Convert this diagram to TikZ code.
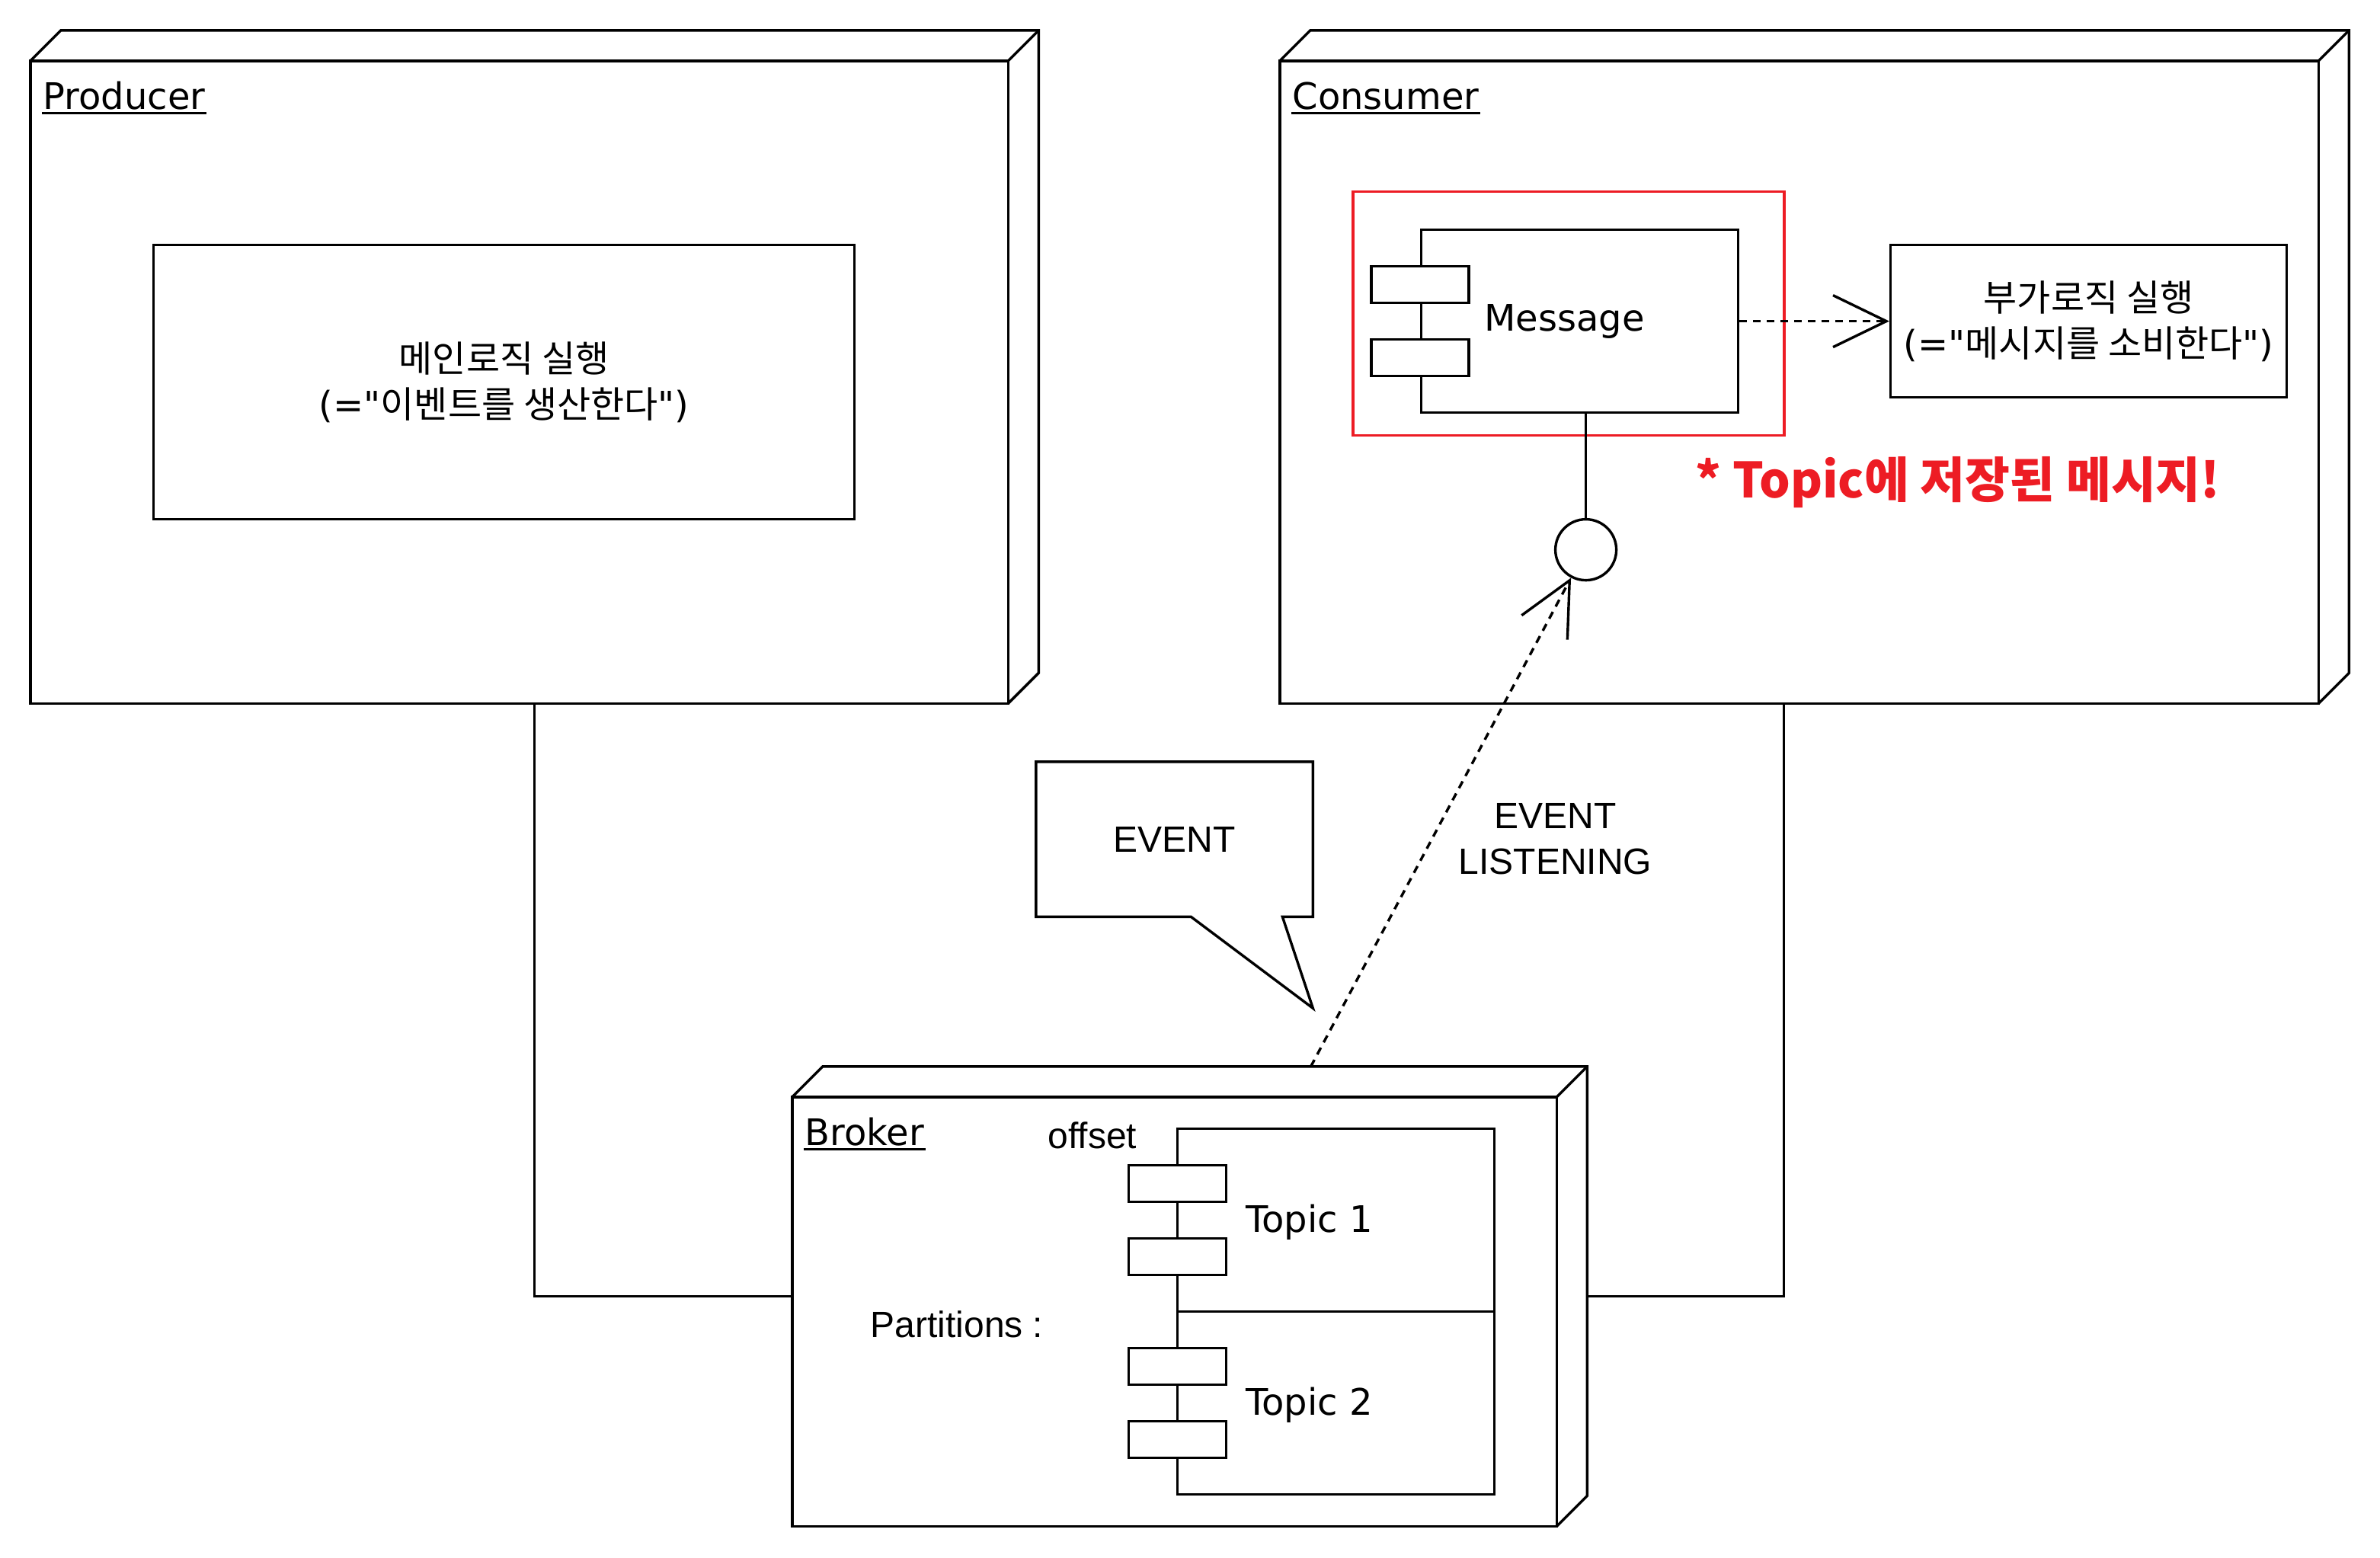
\documentclass[tikz,border=0pt]{standalone}
\usepackage{fontspec}
\setmainfont{DejaVu Sans}
\newfontfamily\dvfont{DejaVu Sans}
\newfontfamily\arialfont{Liberation Sans}
\newfontfamily\krfont{Noto Sans CJK KR}
\usetikzlibrary{arrows.meta}
\definecolor{alertred}{HTML}{ED1C24}

\tikzset{
  deploy/.style={rectangle, inner sep=0pt},
  box/.style={draw, inner sep=0pt},
  port/.style={box, fill=white, minimum width=64pt, minimum height=24pt},
  kr/.style={font=\fontsize{24}{30}\krfont},
  ar/.style={font=\fontsize{24}{30}\arialfont},
  depline/.style={dash pattern=on 5pt off 4pt},
  openarrow/.style={-{Straight Barb[length=35pt,width=34pt]}}
}

\begin{document}
\begin{tikzpicture}[x=1pt, y=-1pt, line width=1.7pt,
  every node/.style={font=\fontsize{24}{30}\selectfont, inner sep=0pt}]

\useasboundingbox (0,0) rectangle (1562,1022);

\node[deploy, minimum width=660pt, minimum height=440pt] (prod) at (350.8,240.8) {};
\node[deploy, minimum width=700pt, minimum height=440pt] (cons) at (1190.8,240.8) {};
\node[deploy, minimum width=520pt, minimum height=300pt] (brk) at (780.8,850.8) {};

\foreach \n in {prod,cons,brk} {
  \draw (\n.south west) rectangle ([shift={(-20,20)}]\n.north east);
  \draw ([shift={(0,20)}]\n.north west) -- ([shift={(20,0)}]\n.north west) -- (\n.north east)
    -- ([shift={(0,-20)}]\n.south east) -- ([shift={(-20,0)}]\n.south east);
  \draw ([shift={(-20,20)}]\n.north east) -- (\n.north east);
}

\node[anchor=base west] (prodlbl) at ([shift={(7.5,51.7)}]prod.north west) {Producer};
\node[anchor=base west] (conslbl) at ([shift={(7.5,51.7)}]cons.north west) {Consumer};
\node[anchor=base west] (brklbl) at ([shift={(7.5,51.7)}]brk.north west) {Broker};
\foreach \l in {prodlbl,conslbl,brklbl}
  \draw ([yshift=-2.5pt]\l.base west) -- ([yshift=-2.5pt]\l.base east);

\node[box, kr, align=center, minimum width=460pt, minimum height=180pt] (mainlogic) at (330.8,250.8) {메인로직 실행\\{\dvfont(="}이벤트를 생산한다{\dvfont")}};

\node[draw=alertred, minimum width=283pt, minimum height=160pt] (focus) at (1029.5,205.8) {};
\node[box, minimum width=208pt, minimum height=120pt] (msg) at (1036.8,210.8) {};
\node (msglbl) at ([xshift=-10pt]msg.center) {Message};
\foreach \y [count=\i] in {-24,24}
  \node[port] (mport\i) at ([shift={(0,\y)}]msg.west) {};

\node[box, kr, align=center, minimum width=260pt, minimum height=100pt] (side) at (1370.8,210.8) {부가로직 실행\\{\dvfont(="}메시지를 소비한다{\dvfont")}};
\draw[depline, openarrow] (msg) -- (side);

\node[anchor=base west, text=alertred, font=\fontsize{32}{36}\krfont\bfseries] (note) at (1112,326.8) {* Topic에 저장된 메시지!};

\node[box, circle, minimum size=40pt] (lsn) at (1040.8,360.8) {};
\draw (lsn |- msg.south) -- (lsn);

\node[ar, minimum width=180pt, minimum height=100pt] (evt) at (770.8,550.8) {EVENT};
\draw (evt.south west) -- (evt.north west) -- (evt.north east) -- (evt.south east)
  -- ++(-20,0) -- ++(20,60) -- ++(-80,-60) -- cycle;

\draw[depline, openarrow] (brk) -- (lsn);
\node[ar, align=center] (lsnlbl) at (1020.8,550.8) {EVENT\\LISTENING};

\draw (prod) |- (brk);
\draw ([xshift=-20pt]cons.south) |- (brk);

\node[ar, anchor=base] (offlbl) at (717,753.5) {offset};
\node[ar, anchor=base] (partlbl) at (628,877.5) {Partitions :};
\node[box, minimum width=208pt, minimum height=120pt] (tpc1) at (876.8,800.8) {};
\node[box, minimum width=208pt, minimum height=120pt] (tpc2) at (876.8,920.8) {};
\foreach \y [count=\i] in {776.8,824.8,896.8,944.8}
  \node[port] (tport\i) at (772.8,\y) {};
\node[anchor=base west] (t1lbl) at (816.8,808.5) {Topic 1};
\node[anchor=base west] (t2lbl) at (816.8,928.7) {Topic 2};

\end{tikzpicture}
\end{document}
